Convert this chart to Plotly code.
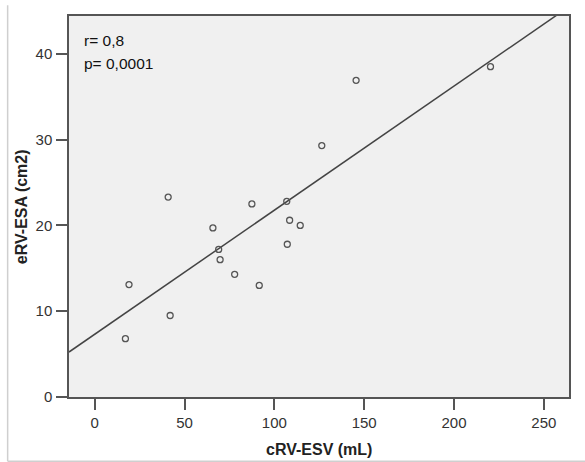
import plotly.graph_objects as go

# cRV-ESV (mL) vs eRV-ESA (cm2) for each patient
crv_esv = [40.9, 87.5, 106.9, 108.5, 114.4, 65.8, 69.0, 69.8, 107.2,
           77.9, 91.6, 19.1, 42.0, 17.1, 145.5, 126.4, 220.3]
erv_esa = [23.3, 22.5, 22.8, 20.6, 20.0, 19.7, 17.2, 16.0, 17.8,
           14.3, 13.0, 13.1, 9.5, 6.8, 36.9, 29.3, 38.5]

# fitted linear regression line
fit_intercept = 7.31
fit_slope = 0.1446

x_ticks = [0, 50, 100, 150, 200, 250]
y_ticks = [0, 10, 20, 30, 40]
x_range = [-14.3, 264.0]
y_range = [0, 44.4]

x_title = "cRV-ESV (mL)"
y_title = "eRV-ESA (cm2)"
stats_lines = ["r= 0,8", "p= 0,0001"]

font_family = "Liberation Sans, Arial, sans-serif"
axis_color = "#555555"

fig = go.Figure()

fig.add_trace(go.Scatter(
    x=x_range,
    y=[fit_intercept + fit_slope * v for v in x_range],
    mode="lines",
    line=dict(color="#444444", width=1.5),
    hoverinfo="skip",
    showlegend=False,
))

fig.add_trace(go.Scatter(
    x=crv_esv,
    y=erv_esa,
    mode="markers",
    marker=dict(symbol="circle-open", size=6, color="#555555",
                line=dict(width=1.3, color="#555555")),
    showlegend=False,
))

for i, txt in enumerate(stats_lines):
    fig.add_annotation(
        x=0.026, y=0.937 - i * 0.061,
        xref="paper", yref="paper",
        xanchor="left", yanchor="middle",
        text=txt, showarrow=False,
        font=dict(family=font_family, size=15.5, color="#111111"),
    )

# axis titles
title_font = dict(family=font_family, size=16, color="#222222")
fig.add_annotation(
    x=0.5, y=-0.137, xref="paper", yref="paper",
    xanchor="center", yanchor="middle",
    text=f"<b>{x_title}</b>", showarrow=False, font=title_font,
)
fig.add_annotation(
    x=-0.0947, y=0.5, xref="paper", yref="paper",
    xanchor="center", yanchor="middle", textangle=-90,
    text=f"<b>{y_title}</b>", showarrow=False, font=title_font,
)

# light frame along the left and bottom of the image
fig.add_shape(type="line", xref="paper", yref="paper",
              x0=-0.1227, x1=-0.1227, y0=1.028, y1=-0.1688,
              line=dict(color="#cfcfcf", width=1.5))
fig.add_shape(type="line", xref="paper", yref="paper",
              x0=-0.1227, x1=1.04, y0=-0.1688, y1=-0.1688,
              line=dict(color="#cfcfcf", width=1.5))

axis_common = dict(
    showline=True, mirror=True, linecolor=axis_color, linewidth=1.5,
    ticks="outside", ticklen=11, tickwidth=1.5, tickcolor=axis_color,
    showgrid=False, zeroline=False, automargin=False,
    tickfont=dict(family=font_family, size=15, color="#333333"),
)

fig.update_xaxes(range=x_range, tickvals=x_ticks, ticklabelstandoff=0,
                 **axis_common)
fig.update_yaxes(range=y_range, tickvals=y_ticks, ticklabelstandoff=1,
                 **axis_common)

fig.update_layout(
    width=585, height=462,
    margin=dict(l=69.3, r=16.3, t=15.7, b=65.3),
    paper_bgcolor="white",
    plot_bgcolor="#f0f0f0",
)

fig.write_html("out.html")
